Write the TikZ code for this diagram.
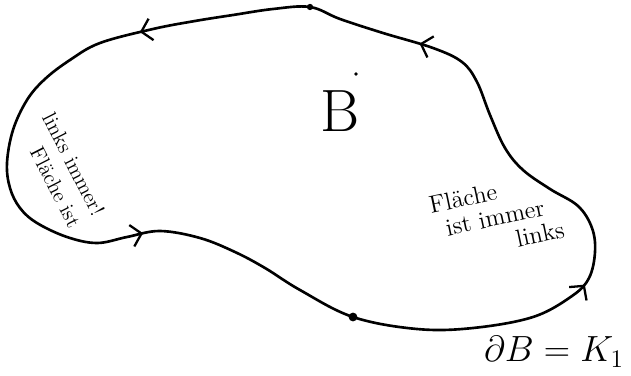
\documentclass[tikz,border=0pt]{standalone}
\usetikzlibrary{arrows.meta,decorations.markings}
\begin{document}
\begin{tikzpicture}[
    x=0.02cm, y=-0.02cm,
    >={Straight Barb[length=2mm, width=4.4mm]},
    randlinie/.style={line width=1.5pt, line join=round, draw=black},
    hand/.style={font=\fontsize{14}{16}\selectfont, inner sep=0pt},
    klein/.style={font=\fontsize{12}{15}\selectfont, inner sep=0pt, align=right},
    gross/.style={font=\fontsize{34}{38}\selectfont, inner sep=0pt},
    formel/.style={font=\fontsize{21}{25}\selectfont, inner sep=0pt},
]
\useasboundingbox (0,0) rectangle (631,375);

% ── Rand von B (gegen den Uhrzeigersinn) ─────────────────────
\draw[randlinie, postaction={decorate}, decoration={markings,
        mark=at position 0.092 with {\arrow[line width=1.3pt]{>}},
        mark=at position 0.353 with {\arrow[line width=1.3pt]{>}},
        mark=at position 0.676 with {\arrow[line width=1.3pt]{>}},
        mark=at position 0.896 with {\arrow[line width=1.3pt]{>}}}]
    plot[smooth cycle, tension=0.6] coordinates {
        (310,7) (273,9) (233,15) (195,21) (153,29) (100,43) (70,60)
        (45,79) (27,100) (13,130) (7,163) (10,188) (20,208) (37,223)
        (67,237) (97,243) (127,237) (160,231) (200,238) (235,252)
        (265,268) (300,290) (353,317) (417,329) (473,328) (533,317)
        (572,296) (589,278) (595,252) (592,228) (578,206) (550,189)
        (523,170) (505,148) (490,115) (477,82) (462,62) (433,48)
        (383,33) (340,19)};

% ── Punkte ───────────────────────────────────────────────────
\coordinate (oben) at (310,7);
\coordinate (unten) at (353,317);
\coordinate (mitte) at (356,74);
\fill (oben) circle (1.8pt);
\fill (unten) circle (2.5pt);
\fill (mitte) circle (1.1pt);

% ── Beschriftung ─────────────────────────────────────────────
\node[gross] (B) at (340,111) {B};

\node[klein, rotate=-63] (links) at (62,170) {links immer!\\Fläche ist};

\node[hand, rotate=12] (rechts1) at (463,198) {Fläche};
\node[hand, rotate=12] (rechts2) at (495,218) {ist immer};
\node[hand, rotate=12] (rechts3) at (540,234) {links};

\node[formel] (rand) at (554,352) {$\partial B = K_1$};

\end{tikzpicture}
\end{document}
